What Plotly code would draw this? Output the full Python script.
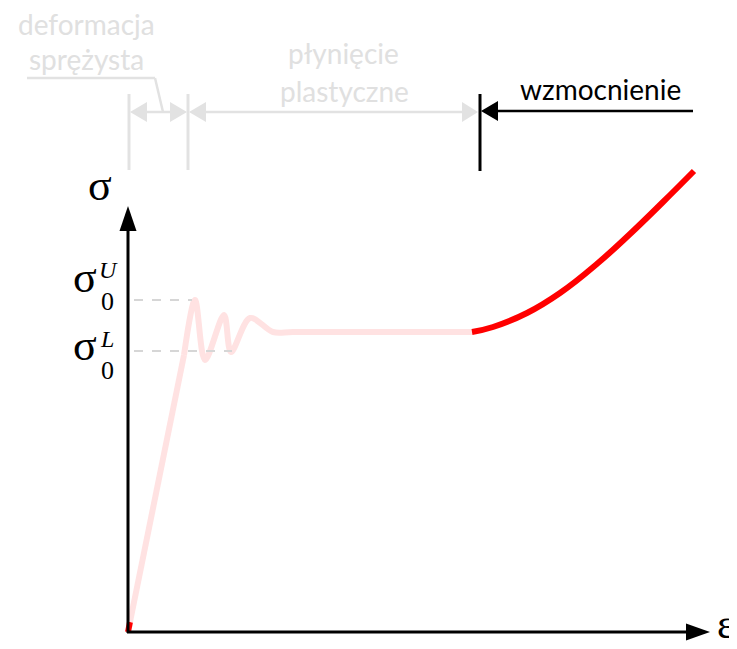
import plotly.graph_objects as go

# ---- data (strain / stress in arbitrary units) ----
strain_start = [0, 2]
stress_start = [0, 10]
strain_elastic = [2, 56]
stress_elastic = [10, 277]
strain_yield = [56, 67, 77, 96, 103, 122, 145, 165, 344]
stress_yield = [277, 332, 272, 317, 280, 314, 300, 300, 300]
strain_harden = [344, 365, 399, 432, 470, 502, 535, 566]
stress_harden = [300, 305, 319, 339, 369, 398, 430, 461]
sigma_upper = 332
sigma_lower = 281
strain_upper_end = 64
strain_lower_end = 104

W, H = 737, 649
OX, OY = 128, 632  # origin position in the picture
PAD = 8            # page body margin offset


def X(px):
    return px - OX


def Y(py):
    return OY - py


PINK = "#ffe2e2"
RED = "#ff0000"
GRAY = "#e2e2e2"
GRAYTXT = "#e0e0e0"

fig = go.Figure()
fig.add_trace(go.Scatter(x=strain_start, y=stress_start, mode="lines",
                         line=dict(color=RED, width=6), hoverinfo="skip"))
fig.add_trace(go.Scatter(x=strain_elastic, y=stress_elastic, mode="lines",
                         line=dict(color=PINK, width=6), hoverinfo="skip"))
fig.add_trace(go.Scatter(x=strain_yield, y=stress_yield, mode="lines",
                         line=dict(color=PINK, width=6, shape="spline", smoothing=0.9),
                         hoverinfo="skip"))
fig.add_trace(go.Scatter(x=strain_harden, y=stress_harden, mode="lines",
                         line=dict(color=RED, width=6, shape="spline", smoothing=1.3),
                         hoverinfo="skip"))

shapes = []


def line(x0, y0, x1, y1, color, width, dash="solid"):
    shapes.append(dict(type="line", xref="x", yref="y", x0=X(x0), y0=Y(y0),
                       x1=X(x1), y1=Y(y1), line=dict(color=color, width=width, dash=dash)))


def tri(pts, color):
    p = "M " + " L ".join(f"{X(a)},{Y(b)}" for a, b in pts) + " Z"
    shapes.append(dict(type="path", xref="x", yref="y", path=p,
                       fillcolor=color, line=dict(color=color, width=0)))


# dashed yield levels
shapes.append(dict(type="line", xref="x", yref="y", x0=X(134), x1=strain_upper_end,
                   y0=sigma_upper, y1=sigma_upper,
                   line=dict(color="#d6d6d6", width=2, dash="dash")))
shapes.append(dict(type="line", xref="x", yref="y", x0=X(134), x1=strain_lower_end,
                   y0=sigma_lower, y1=sigma_lower,
                   line=dict(color="#d6d6d6", width=2, dash="dash")))

# axes
line(128, 633, 128, 226, "black", 3)
tri([(128, 206), (119.5, 231), (136.5, 231)], "black")
line(127, 632, 690, 632, "black", 3)
tri([(710, 632), (686, 623.5), (686, 640.5)], "black")

# top brackets
line(129, 94, 129, 170, GRAY, 3)
line(188, 94, 188, 170, GRAY, 3)
line(140, 112, 180, 112, GRAY, 2.5)
tri([(130, 112), (147, 102), (147, 122)], GRAY)
tri([(187, 112), (170, 102), (170, 122)], GRAY)
line(200, 112, 470, 112, GRAY, 2.5)
tri([(189, 112), (206, 102), (206, 122)], GRAY)
tri([(478, 112), (462, 102), (462, 122)], GRAY)
line(27, 78, 155, 78, GRAY, 2.5)
line(155, 78, 163, 112, GRAY, 2.5)
line(480, 94, 480, 171, "black", 3)
line(490, 111, 693, 111, "black", 2.5)
tri([(481, 111), (498, 101), (498, 121)], "black")

annotations = []


def txt(t, x, y, size, color="black", family="Lato", **kw):
    annotations.append(dict(text=t, x=X(x), y=Y(y), xref="x", yref="y", showarrow=False,
                            xanchor="center", yanchor="middle",
                            font=dict(size=size, color=color, family=family), **kw))


SANS = "Lato"
SERIF = "Liberation Serif"
txt("deformacja", 86, 24, 28, GRAYTXT, SANS)
txt("sprężysta", 86, 59, 28, GRAYTXT, SANS)
txt("płynięcie", 343, 53, 28, GRAYTXT, SANS)
txt("plastyczne", 344, 91, 28, GRAYTXT, SANS)
txt("wzmocnienie", 600, 89, 28, "black", SANS)

txt("σ", 100, 185, 44, "black", SERIF)
txt("σ", 85, 277, 44, "black", SERIF)
txt("<i>U</i>", 108, 270, 24, "black", SERIF)
txt("0", 107, 301, 26, "black", SERIF)
txt("σ", 85, 345, 44, "black", SERIF)
txt("<i>L</i>", 107, 339, 24, "black", SERIF)
txt("0", 107, 370, 26, "black", SERIF)
txt("ε", 726, 624, 42, "black", SERIF)

fig.update_layout(
    width=W, height=H, margin=dict(l=0, r=0, t=0, b=0),
    paper_bgcolor="white", plot_bgcolor="white", showlegend=False,
    xaxis=dict(range=[X(PAD), X(W + PAD)], visible=False, fixedrange=True),
    yaxis=dict(range=[Y(H + PAD), Y(PAD)], visible=False, fixedrange=True),
    shapes=shapes, annotations=annotations,
)
fig.write_html("out.html")
